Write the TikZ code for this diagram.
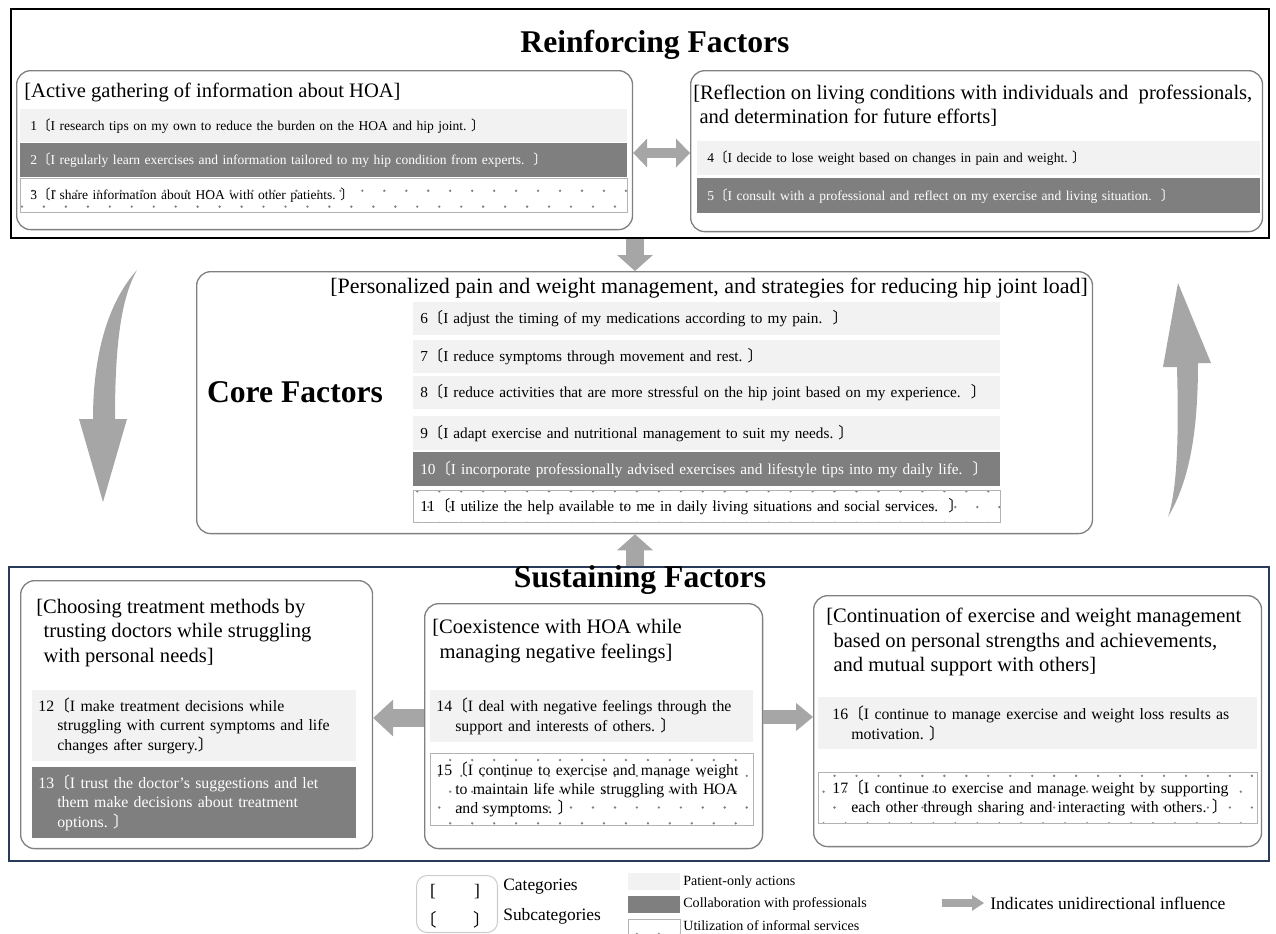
\documentclass[tikz,border=0pt]{standalone}
\usepackage{fontspec}
\setmainfont{Liberation Serif}
\newfontfamily\cjk{Noto Sans CJK JP}
\usetikzlibrary{arrows.meta, patterns.meta}
\definecolor{pale}{RGB}{242,242,242}
\definecolor{sombre}{RGB}{127,127,127}
\definecolor{gris}{RGB}{128,128,128}
\definecolor{fleche}{RGB}{166,166,166}
\definecolor{ardoise}{RGB}{40,60,90}
\newcommand{\lsub}{{\cjk 〔}}
\newcommand{\rsub}{{\cjk 〕}}
\newcommand{\rowfont}{\fontsize{7.7}{10}\selectfont}
\newcommand{\corefont}{\fontsize{8.7}{10}\selectfont}
\newcommand{\susfont}{\fontsize{9}{11}\selectfont}
\newcommand{\headfont}{\fontsize{11.7}{13.8}\selectfont}
\newcommand{\titlefont}{\fontsize{18}{20}\selectfont\bfseries}
\tikzdeclarepattern{
  name=sparsedots,
  type=uncolored,
  bottom left={(-0.9pt,-0.9pt)},
  top right={(7.2pt,9.9pt)},
  tile size={(12.5pt,18pt)},
  code={
    \fill (0pt,0pt) circle[radius=0.75pt];
    \fill (6.25pt,9pt) circle[radius=0.75pt];
  }
}

\begin{document}
\begin{tikzpicture}[x=0.02cm, y=-0.02cm,
  box/.style={draw=gris, line width=0.75pt, rounded corners=8pt, anchor=north west, inner sep=0pt},
  row/.style={anchor=north west, align=left, inner ysep=0pt, inner xsep=0.2cm},
  pale row/.style={row, fill=pale},
  dark row/.style={row, fill=sombre, text=white},
  dot row/.style={row, draw=gris!60, line width=0.4pt, pattern=sparsedots, pattern color=gris},
  head/.style={anchor=west, align=left, inner sep=0pt, font=\headfont},
  title/.style={inner sep=0pt, font=\titlefont},
  block/.style={draw=fleche, line width=#1},
]
\useasboundingbox (0,0) rectangle (1276,934);

% Reinforcing factors
\node[draw, line width=1.2pt, minimum width=25.16cm, minimum height=4.58cm, anchor=north west, inner sep=0pt] (reinf) at (10,8) {};
\node[title] (treinf) at (655,45) {Reinforcing Factors};

\node[box, minimum width=12.32cm, minimum height=3.18cm] (catA) at (16,70) {};
\node[head] (hA) at (24,92) {[Active gathering of information about HOA]};
\node[pale row, text width=11.74cm, minimum height=0.66cm, font=\rowfont] (s1) at (20,109) {1\lsub I research tips on my own to reduce the burden on the HOA and hip joint.\ \rsub};
\node[dark row, text width=11.74cm, minimum height=0.68cm, font=\rowfont] (s2) at (20,143) {2\lsub I regularly learn exercises and information tailored to my hip condition from experts.\ \ \rsub};
\node[dot row, text width=11.74cm, minimum height=0.68cm, font=\rowfont] (s3) at (20,178) {3\lsub I share information about HOA with other patients.\ \rsub};

\node[box, minimum width=11.44cm, minimum height=3.22cm] (catB) at (690,70) {};
\node[head] (hB) at (693,106) {[Reflection on living conditions with individuals and\ \ professionals,\\\hspace*{0.3em}and determination for future efforts]};
\node[pale row, text width=10.86cm, minimum height=0.68cm, font=\rowfont] (s4) at (697,141) {4\lsub I decide to lose weight based on changes in pain and weight.\ \rsub};
\node[dark row, text width=10.86cm, minimum height=0.70cm, font=\rowfont] (s5) at (697,178) {5\lsub I consult with a professional and reflect on my exercise and living situation.\ \ \rsub};

% Core factors
\node[box, minimum width=17.92cm, minimum height=5.24cm] (core) at (196,271) {};
\node[head, font=\fontsize{12.5}{14}\selectfont] (hcore) at (330,288) {[Personalized pain and weight management, and strategies for reducing hip joint load]};
\node[title] (tcore) at (295,392) {Core Factors};
\node[pale row, inner xsep=0.14cm, text width=11.46cm, minimum height=0.66cm, font=\corefont] (s6) at (413,302) {6\lsub I adjust the timing of my medications according to my pain.\ \ \rsub};
\node[pale row, inner xsep=0.14cm, text width=11.46cm, minimum height=0.66cm, font=\corefont] (s7) at (413,340) {7\lsub I reduce symptoms through movement and rest.\ \rsub};
\node[pale row, inner xsep=0.14cm, text width=11.46cm, minimum height=0.66cm, font=\corefont] (s8) at (413,376) {8\lsub I reduce activities that are more stressful on the hip joint based on my experience.\ \ \rsub};
\node[pale row, inner xsep=0.14cm, text width=11.46cm, minimum height=0.68cm, font=\corefont] (s9) at (413,416) {9\lsub I adapt exercise and nutritional management to suit my needs.\ \rsub};
\node[dark row, inner xsep=0.14cm, text width=11.46cm, minimum height=0.68cm, font=\corefont] (s10) at (413,452) {10\lsub I incorporate professionally advised exercises and lifestyle tips into my daily life.\ \ \rsub};
\node[dot row, inner xsep=0.14cm, text width=11.46cm, minimum height=0.64cm, font=\corefont] (s11) at (413,490) {11\lsub I utilize the help available to me in daily living situations and social services.\ \ \rsub};

% Sustaining factors
\node[draw=ardoise, line width=1pt, minimum width=25.2cm, minimum height=5.88cm, anchor=north west, inner sep=0pt] (sustain) at (8,566) {};
\node[title] (tsus) at (640,580) {Sustaining Factors};

\node[box, minimum width=7.04cm, minimum height=5.36cm] (choose) at (20,580) {};
\node[head] (hchoose) at (36,633) {[Choosing treatment methods by\\\hspace*{0.35em}trusting doctors while struggling\\\hspace*{0.35em}with personal needs]};
\node[pale row, inner xsep=0.12cm, text width=6.24cm, minimum height=1.42cm, font=\susfont] (s12) at (32,690) {12\lsub I make treatment decisions while\\\hspace*{1.2em}struggling with current symptoms and life\\\hspace*{1.2em}changes after surgery.\rsub};
\node[dark row, inner xsep=0.12cm, text width=6.24cm, minimum height=1.42cm, font=\susfont] (s13) at (32,767) {13\lsub I trust the doctor’s suggestions and let\\\hspace*{1.2em}them make decisions about treatment\\\hspace*{1.2em}options.\ \rsub};

\node[box, minimum width=6.76cm, minimum height=4.90cm] (coex) at (424,603) {};
\node[head] (hcoex) at (432,641) {[Coexistence with HOA while\\\hspace*{0.35em}managing negative feelings]};
\node[pale row, inner xsep=0.12cm, text width=6.22cm, minimum height=1.04cm, font=\susfont] (s14) at (430,690) {14\lsub I deal with negative feelings through the\\\hspace*{1.2em}support and interests of others.\ \rsub};
\node[dot row, inner xsep=0.12cm, text width=6.22cm, minimum height=1.44cm, font=\susfont] (s15) at (430,753) {15\lsub I continue to exercise and manage weight\\\hspace*{1.2em}to maintain life while struggling with HOA\\\hspace*{1.2em}and symptoms.\ \rsub};

\node[box, minimum width=8.96cm, minimum height=5.02cm] (cont) at (813,595) {};
\node[head] (hcont) at (826,642) {[Continuation of exercise and weight management\\\hspace*{0.35em}based on personal strengths and achievements,\\\hspace*{0.35em}and mutual support with others]};
\node[pale row, inner xsep=0.28cm, text width=8.22cm, minimum height=1.04cm, font=\susfont] (s16) at (818,697) {16\lsub I continue to manage exercise and weight loss results as\\\hspace*{1.2em}motivation.\ \rsub};
\node[dot row, inner xsep=0.28cm, text width=8.22cm, minimum height=1.02cm, font=\susfont] (s17) at (818,772) {17\lsub I continue to exercise and manage weight by supporting\\\hspace*{1.2em}each other through sharing and interacting with others.\ \rsub};

% fleches
\draw[block=6.2pt, {Triangle[length=7.9pt, width=16.4pt, line width=0pt]}-{Triangle[length=7.9pt, width=16.4pt, line width=0pt]}] (catA.east |- 0,153) -- (catB.west |- 0,153);
\draw[block=10.2pt, -{Triangle[length=9.1pt, width=20.4pt, line width=0pt]}] (reinf.south -| 635,0) -- (core.north -| 635,0);
\draw[block=10.2pt, -{Triangle[length=9.1pt, width=20.4pt, line width=0pt]}] (sustain.north -| 635,0) -- (core.south -| 635,0);
\draw[block=10.8pt, -{Triangle[length=11.3pt, width=21pt, line width=0pt]}] (coex.west |- 0,718) -- (choose.east |- 0,718);
\draw[block=8.5pt, -{Triangle[length=9.6pt, width=15.9pt, line width=0pt]}] (coex.east |- 0,717) -- (cont.west |- 0,717);

% fleches courbes
\fill[fleche] (137,270) .. controls (110,300) and (93,350) .. (93,419) -- (79,419) -- (103,502) -- (127,419) -- (115,419) .. controls (115,350) and (120,300) .. (137,270) -- cycle;
\fill[fleche] (1168,517) .. controls (1190,480) and (1198,430) .. (1198,363) -- (1211,363) -- (1178,283) -- (1163,367) -- (1177,367) .. controls (1179,440) and (1177,490) .. (1168,517) -- cycle;

% legende
\node[draw=gris!40, line width=0.6pt, rounded corners=6pt, minimum width=1.62cm, minimum height=1.14cm, anchor=north west, inner sep=0pt] (leg) at (416,875) {};
\node[font=\fontsize{10}{12}\selectfont] (lA) at (433,892) {[};
\node[font=\fontsize{10}{12}\selectfont] (lB) at (477,892) {]};
\node[font=\fontsize{10}{12}\selectfont] (lC) at (428,920) {\lsub};
\node[font=\fontsize{10}{12}\selectfont] (lD) at (482,920) {\rsub};
\node[anchor=west, inner sep=0pt, font=\fontsize{9.9}{12}\selectfont] (lcat) at (503,887) {Categories};
\node[anchor=west, inner sep=0pt, font=\fontsize{9.9}{12}\selectfont] (lsub) at (503,916) {Subcategories};
\node[fill=pale, minimum width=1.04cm, minimum height=0.34cm, anchor=north west, inner sep=0pt] (k1) at (628,873) {};
\node[fill=sombre, minimum width=1.04cm, minimum height=0.34cm, anchor=north west, inner sep=0pt] (k2) at (628,896) {};
\node[draw=gris!60, line width=0.4pt, pattern=sparsedots, pattern color=gris, minimum width=1.04cm, minimum height=0.4cm, anchor=north west, inner sep=0pt] (k3) at (628,919) {};
\node[anchor=west, inner sep=0pt, font=\fontsize{8}{10}\selectfont] (lk1) at (683,882) {Patient-only actions};
\node[anchor=west, inner sep=0pt, font=\fontsize{8}{10}\selectfont] (lk2) at (683,904) {Collaboration with professionals};
\node[anchor=west, inner sep=0pt, font=\fontsize{8}{10}\selectfont] (lk3) at (683,926) {Utilization of informal services};
\coordinate (g1) at (942,903);
\coordinate (g2) at (984,903);
\draw[block=4.5pt, -{Triangle[length=6.8pt, width=9pt, line width=0pt]}] (g1) -- (g2);
\node[anchor=west, inner sep=0pt, font=\fontsize{10}{12}\selectfont] (lfl) at (990,903) {Indicates unidirectional influence};
\end{tikzpicture}
\end{document}
